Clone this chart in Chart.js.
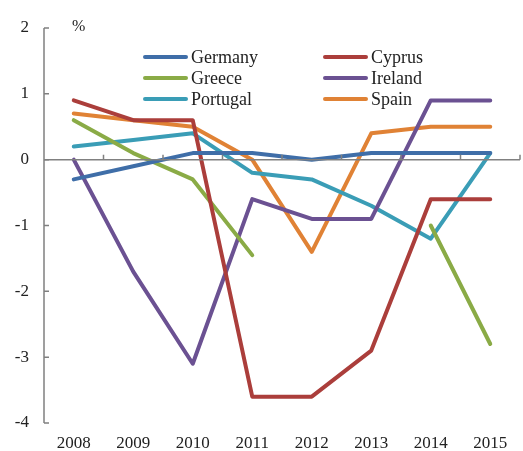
<!DOCTYPE html>
<html>
<head>
<meta charset="utf-8">
<script src="https://cdn.jsdelivr.net/npm/chart.js@4/dist/chart.umd.min.js"></script>
<style>
  html, body { margin: 0; padding: 0; background: #fff; }
  #wrap { position: relative; width: 523px; height: 451px; }
</style>
</head>
<body>
<div id="wrap"><canvas id="chart"></canvas></div>
<script>
// ---------------- Data ----------------

const years = ["2008","2009","2010","2011","2012","2013","2014","2015"];

const germany  = [-0.3, -0.1, 0.1, 0.1, 0.0, 0.1, 0.1, 0.1];
const cyprus   = [0.9, 0.6, 0.6, -3.6, -3.6, -2.9, -0.6, -0.6];
const greece   = [0.6, 0.1, -0.3, -1.45, null, null, -1.0, -2.8];
const ireland  = [0.0, -1.7, -3.1, -0.6, -0.9, -0.9, 0.9, 0.9];
const portugal = [0.2, 0.3, 0.4, -0.2, -0.3, -0.7, -1.2, 0.1];
const spain    = [0.7, 0.6, 0.5, 0.0, -1.4, 0.4, 0.5, 0.5];

const yTicks = [2, 1, 0, -1, -2, -3, -4];

const axisColor = "#808080";
const font = "Liberation Serif";

function line(label, data, color) {
    return {
        label: label,
        data: data,
        borderColor: color,
        backgroundColor: color,
        borderWidth: 4,
        pointRadius: 0,
        tension: 0,
        spanGaps: false,
        borderJoinStyle: "round",
        borderCapStyle: "round"
    };
}

// ---------------- Custom drawing ----------------

const extras = {
    id: "extras",
    afterDraw(chart) {
        const ctx = chart.ctx;
        const x = chart.scales.x;
        const y = chart.scales.y;
        ctx.save();
        ctx.strokeStyle = axisColor;
        ctx.lineWidth = 1.5;

        // y axis line + inward ticks
        ctx.beginPath();
        ctx.moveTo(x.left, y.top);
        ctx.lineTo(x.left, y.bottom);
        yTicks.forEach(v => {
            const py = y.getPixelForValue(v);
            ctx.moveTo(x.left, py);
            ctx.lineTo(x.left + 5, py);
        });
        ctx.stroke();

        // zero line + upward ticks between categories
        const y0 = y.getPixelForValue(0);
        ctx.beginPath();
        ctx.moveTo(x.left, y0);
        ctx.lineTo(x.right, y0);
        for (let i = 0; i < years.length; i++) {
            const px = x.getPixelForValue(i + 0.5);
            ctx.moveTo(px, y0);
            ctx.lineTo(px, y0 - 5);
        }
        ctx.stroke();

        // unit
        ctx.fillStyle = "#222";
        ctx.font = "16px '" + font + "'";
        ctx.textBaseline = "alphabetic";
        ctx.fillText("%", 72, 31);

        // legend, two columns
        ctx.font = "18px '" + font + "'";
        ctx.textBaseline = "middle";
        const cols = [143, 323];
        const rows = [57, 78, 99];
        chart.data.datasets.forEach((ds, i) => {
            const cx = cols[i % 2];
            const cy = rows[Math.floor(i / 2)];
            ctx.strokeStyle = ds.borderColor;
            ctx.lineWidth = 4;
            ctx.lineCap = "round";
            ctx.beginPath();
            ctx.moveTo(cx + 2, cy);
            ctx.lineTo(cx + 43, cy);
            ctx.stroke();
            ctx.fillStyle = "#222";
            ctx.fillText(ds.label, cx + 48, cy + 1);
        });
        ctx.restore();
    }
};

// ---------------- Chart ----------------

new Chart(document.getElementById("chart"), {
    type: "line",
    data: {
        labels: years,
        datasets: [
            line("Germany", germany, "#3f6ea8"),
            line("Cyprus", cyprus, "#ab3e3b"),
            line("Greece", greece, "#8aab46"),
            line("Ireland", ireland, "#6b5192"),
            line("Portugal", portugal, "#3a9db6"),
            line("Spain", spain, "#e08235")
        ]
    },
    options: {
        responsive: true,
        maintainAspectRatio: false,
        animation: false,
        layout: { padding: { top: 28, right: 3, left: 0, bottom: 0 } },
        plugins: {
            legend: { display: false },
            tooltip: { enabled: false }
        },
        scales: {
            x: {
                offset: true,
                grid: { display: false, drawTicks: false },
                border: { display: false },
                ticks: {
                    color: "#222",
                    font: { family: font, size: 17 },
                    padding: 10,
                    maxRotation: 0,
                    autoSkip: false
                },
                afterFit(scale) { scale.height = 28; }
            },
            y: {
                min: -4,
                max: 2,
                grid: { display: false, drawTicks: false },
                border: { display: false },
                ticks: {
                    stepSize: 1,
                    color: "#222",
                    font: { family: font, size: 17 },
                    padding: 15
                },
                afterFit(scale) { scale.width = 44; }
            }
        }
    },
    plugins: [extras]
});
</script>
</body>
</html>
